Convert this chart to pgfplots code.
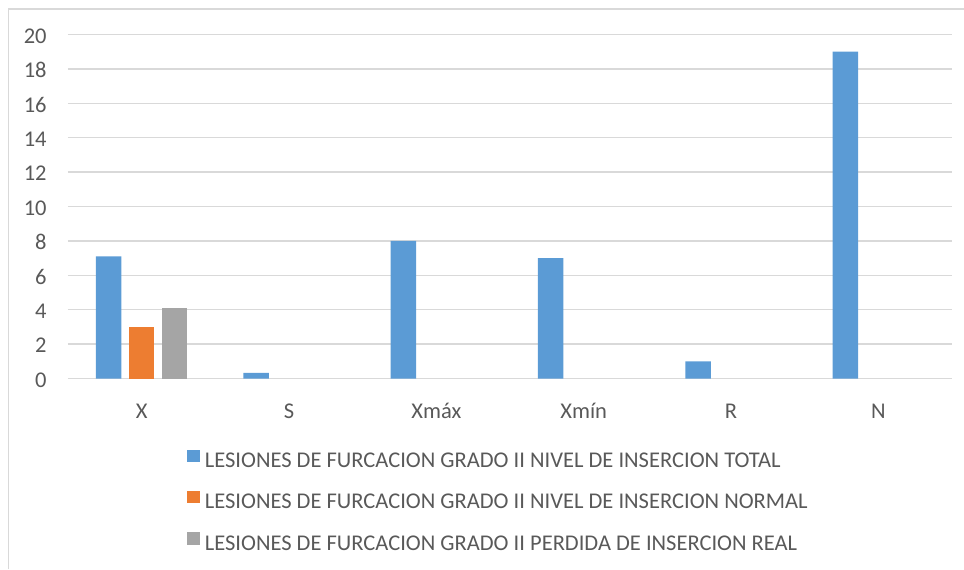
\documentclass[border=0pt]{standalone}
\usepackage{fontspec}
\setmainfont{Carlito}
\usepackage{pgfplots}
\pgfplotsset{compat=1.18}
\definecolor{cblue}{HTML}{5B9BD5}
\definecolor{corange}{HTML}{ED7D31}
\definecolor{cgray}{HTML}{A5A5A5}
\definecolor{gridc}{HTML}{D9D9D9}
\definecolor{txt}{HTML}{595959}
\pgfplotsset{
  sq legend/.style={legend image code/.code={\fill[##1] (0pt,-0.9pt) rectangle (6.2pt,5.3pt);}}
}
\begin{document}
\begin{tikzpicture}
\useasboundingbox (0,0) rectangle (482pt,284.5pt);
\draw[gridc, line width=0.75pt] (4.25pt,0) -- (4.25pt,280pt) -- (482pt,280pt);
\begin{axis}[
  at={(34pt,95.25pt)}, anchor=south west,
  scale only axis,
  width=442pt, height=172pt,
  xmin=-0.5, xmax=5.5,
  ymin=0, ymax=20,
  ytick={0,2,...,20},
  xtick={0,1,2,3,4,5},
  xticklabels={X,S,Xmáx,Xmín,R,N},
  ymajorgrids,
  grid style={gridc, line width=0.75pt},
  axis line style={draw=none},
  major tick style={draw=none},
  ybar=3.75pt,
  bar width=12.75pt,
  /pgf/number format/assume math mode=true,
  every tick label/.append style={font=\fontsize{11.25}{13.5}\selectfont, text=txt, inner sep=0pt, text height=7.2pt, text depth=0pt},
  yticklabel style={anchor=east, xshift=-10.5pt, yshift=-0.8pt},
  xticklabel style={yshift=-8.5pt},
  legend style={
    at={(axis description cs:0.135,-0.2075)}, anchor=north west,
    draw=none, fill=none, inner sep=0pt, outer sep=0pt,
    row sep=11.7pt, column sep=2.6pt,
    font=\fontsize{11.25}{13.5}\selectfont, text=txt,
    nodes={inner sep=0pt, text height=7.2pt, text depth=0pt},
  },
  legend cell align=left,
]
\addplot[fill=cblue, draw=none, sq legend] coordinates {(0,7.1) (1,0.33) (2,8) (3,7) (4,1) (5,19)};
\addlegendentry{LESIONES DE FURCACION GRADO II NIVEL DE INSERCION TOTAL}
\addplot[fill=corange, draw=none, sq legend] coordinates {(0,3.02)};
\addlegendentry{LESIONES DE FURCACION GRADO II NIVEL DE INSERCION NORMAL}
\addplot[fill=cgray, draw=none, sq legend] coordinates {(0,4.1)};
\addlegendentry{LESIONES DE FURCACION GRADO II PERDIDA DE INSERCION REAL}
\end{axis}
\end{tikzpicture}
\end{document}
